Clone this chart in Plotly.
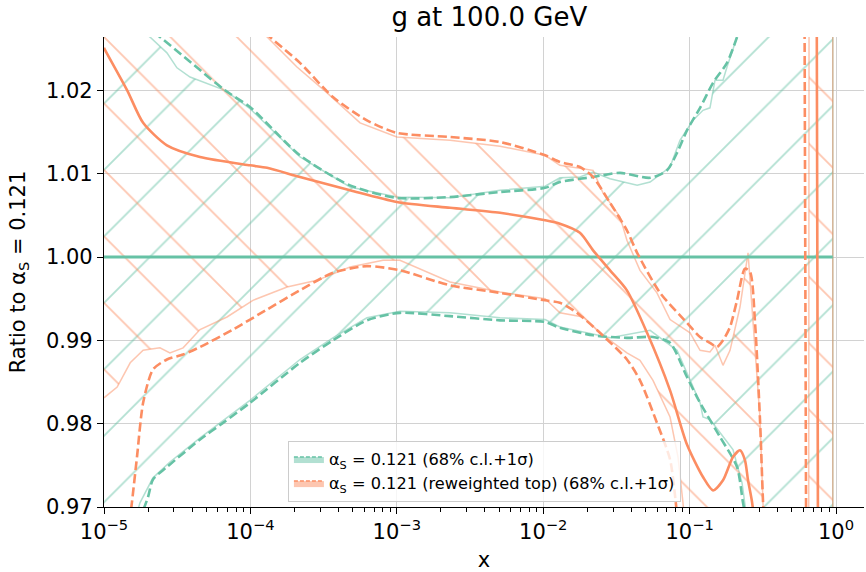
import plotly.graph_objects as go

# ---------------- data ----------------
green_central_x = [1e-5, 0.95]
green_central_y = [1.0, 1.0]

green_dash_hi_x = [1e-5, 1.51e-5, 2.41e-5, 6.71e-5, 9.93e-5, 2.18e-4, 4.79e-4, 1.00e-3, 2.31e-3, 5.07e-3,
                   1.03e-2, 1.30e-2, 2.19e-2, 3.35e-2, 5.37e-2, 7.01e-2, 8.20e-2, 9.59e-2, 0.1178, 0.1445,
                   0.180, 0.2108, 0.2388, 0.3027, 0.95]
green_dash_hi_y = [1.0319, 1.0290, 1.0264, 1.0200, 1.0180, 1.0122, 1.0086, 1.0071, 1.0072, 1.0078,
                   1.0083, 1.0090, 1.0096, 1.0101, 1.0095, 1.0104, 1.0125, 1.0152, 1.0179, 1.0209,
                   1.0233, 1.0264, 1.0296, 1.040, 1.100]

green_dash_lo_x = [1e-5, 1.51e-5, 1.76e-5, 2.00e-5, 2.16e-5, 2.69e-5, 4.53e-5, 6.5e-5, 9.93e-5, 2.18e-4,
                   3.66e-4, 6.25e-4, 1.05e-3, 2.31e-3, 5.07e-3, 1.03e-2, 1.30e-2, 2.19e-2, 3.73e-2, 5.62e-2,
                   7.35e-2, 9.59e-2, 0.1178, 0.1614, 0.2108, 0.2316, 0.2506, 0.3027, 0.95]
green_dash_lo_y = [0.950, 0.9637, 0.9685, 0.9712, 0.9733, 0.9748, 0.9781, 0.9801, 0.9825, 0.9873,
                   0.9900, 0.9924, 0.9933, 0.9929, 0.9924, 0.9922, 0.9915, 0.9906, 0.9903, 0.9904,
                   0.9897, 0.9856, 0.9825, 0.9784, 0.9748, 0.9705, 0.9673, 0.955, 0.90]

green_band_hi_x = [1e-5, 2.06e-5, 2.69e-5, 3.15e-5, 3.87e-5, 6.71e-5, 9.93e-5, 2.18e-4, 4.79e-4, 1.00e-3,
                   2.31e-3, 5.07e-3, 1.03e-2, 1.30e-2, 1.78e-2, 2.19e-2, 2.86e-2, 3.73e-2, 4.38e-2, 5.37e-2,
                   5.98e-2, 7.35e-2, 8.59e-2, 0.1054, 0.1234, 0.1377, 0.149, 0.169, 0.180, 0.1977,
                   0.2108, 0.2388, 0.3027, 0.95]
green_band_hi_y = [1.0300, 1.0264, 1.0245, 1.0227, 1.0216, 1.0200, 1.0178, 1.0120, 1.0084, 1.0072,
                   1.0071, 1.0080, 1.0085, 1.0095, 1.0096, 1.0102, 1.0094, 1.0089, 1.0086, 1.0090,
                   1.0096, 1.0108, 1.0140, 1.0164, 1.0176, 1.0179, 1.0212, 1.0212, 1.0228, 1.0248,
                   1.0264, 1.0300, 1.045, 1.100]

green_band_lo_x = [1e-5, 1.76e-5, 1.91e-5, 2.16e-5, 2.82e-5, 4.53e-5, 9.93e-5, 2.18e-4, 3.66e-4, 6.25e-4,
                   1.05e-3, 2.31e-3, 5.07e-3, 1.03e-2, 1.30e-2, 2.86e-2, 5.37e-2, 8.20e-2, 0.1178, 0.1234,
                   0.1377, 0.1977, 0.228, 0.2388, 0.2588, 0.3027, 0.95]
green_band_lo_y = [0.955, 0.9705, 0.9717, 0.9735, 0.9754, 0.9783, 0.9828, 0.9877, 0.9903, 0.9927,
                   0.9935, 0.9933, 0.9927, 0.9925, 0.9916, 0.9903, 0.9912, 0.9888, 0.9825, 0.9808,
                   0.9805, 0.9769, 0.9729, 0.9703, 0.966, 0.955, 0.90]

orange_central_x = [1e-5, 1.02e-5, 1.44e-5, 1.85e-5, 2.69e-5, 4.53e-5, 9.93e-5, 1.30e-4, 2.18e-4, 4.79e-4,
                    1.00e-3, 2.31e-3, 5.07e-3, 1.03e-2, 1.30e-2, 1.78e-2, 2.19e-2, 2.86e-2, 3.73e-2, 5.12e-2,
                    7.35e-2, 9.59e-2, 0.1234, 0.1445, 0.169, 0.1977, 0.2208, 0.2388, 0.2506, 0.2668,
                    0.284, 0.414, 0.722, 0.730, 0.95]
orange_central_y = [1.0251, 1.0248, 1.0200, 1.0161, 1.0134, 1.0120, 1.0110, 1.0107, 1.0096, 1.0080,
                    1.0066, 1.0059, 1.0053, 1.0044, 1.0040, 1.0029, 1.0008, 0.9984, 0.9960, 0.9909,
                    0.9840, 0.9775, 0.9736, 0.9720, 0.9732, 0.9760, 0.9768, 0.9756, 0.9732, 0.9706,
                    0.966, 0.90, 0.80, 1.25, 1.20]

orange_dash_hi_x = [1e-5, 4.53e-5, 1.36e-4, 2.18e-4, 3.66e-4, 6.25e-4, 1.00e-3, 2.31e-3, 5.07e-3, 1.03e-2,
                    1.30e-2, 1.78e-2, 2.19e-2, 2.86e-2, 3.73e-2, 4.38e-2, 6.28e-2, 9.59e-2, 0.1178, 0.1377,
                    0.1538, 0.169, 0.1888, 0.2108, 0.2388, 0.2588, 0.280, 0.3027, 0.317, 0.3325,
                    0.449, 0.614, 0.634, 0.95]
orange_dash_hi_y = [1.045, 1.034, 1.0264, 1.0233, 1.0192, 1.0164, 1.0149, 1.0144, 1.0138, 1.0122,
                    1.0114, 1.0108, 1.0096, 1.0065, 1.0032, 1.0005, 0.9957, 0.9921, 0.9904, 0.9897,
                    0.9892, 0.9900, 0.9916, 0.9948, 0.9986, 0.9982, 0.9920, 0.9803, 0.9707, 0.963,
                    0.90, 0.85, 1.20, 1.25]

orange_dash_lo_x = [1e-5, 1.39e-5, 1.55e-5, 1.68e-5, 1.85e-5, 2.16e-5, 2.69e-5, 3.47e-5, 4.53e-5, 7.60e-5,
                    1.30e-4, 2.18e-4, 3.66e-4, 6.25e-4, 1.05e-3, 2.31e-3, 5.07e-3, 1.03e-2, 1.30e-2, 1.70e-2,
                    2.44e-2, 3.73e-2, 4.58e-2, 5.98e-2, 7.35e-2, 8.07e-2, 8.59e-2, 0.1178, 0.5, 0.95]
orange_dash_lo_y = [0.945, 0.9637, 0.9705, 0.9760, 0.9825, 0.9865, 0.9877, 0.9883, 0.9892, 0.9913,
                    0.9937, 0.9960, 0.9981, 0.9989, 0.9984, 0.9966, 0.9957, 0.9948, 0.9945, 0.9933,
                    0.9909, 0.9877, 0.9852, 0.9801, 0.9757, 0.9703, 0.965, 0.94, 0.90, 0.85]

orange_band_hi_x = [1e-5, 1.30e-4, 2.08e-4, 3.34e-4, 5.61e-4, 1.00e-3, 2.31e-3, 5.07e-3, 1.03e-2, 1.30e-2,
                    2.19e-2, 2.56e-2, 3.35e-2, 3.73e-2, 4.58e-2, 5.98e-2, 7.35e-2, 0.1007, 0.1178, 0.1377,
                    0.149, 0.169, 0.1888, 0.2208, 0.2506, 0.2711, 0.3027, 0.317, 0.3325, 0.449,
                    0.644, 0.664, 0.95]
orange_band_hi_y = [1.045, 1.0264, 1.0228, 1.0197, 1.0161, 1.0144, 1.0140, 1.0133, 1.0122, 1.0110,
                    1.0104, 1.0077, 1.0048, 1.0020, 0.9984, 0.9957, 0.9925, 0.9909, 0.9888, 0.9886,
                    0.9894, 0.9870, 0.9888, 0.9940, 1.0005, 0.9921, 0.9806, 0.9705, 0.962, 0.90,
                    0.85, 1.20, 1.25]

orange_band_lo_x = [1e-5, 1.23e-5, 1.51e-5, 1.85e-5, 2.41e-5, 2.82e-5, 3.47e-5, 4.53e-5, 6.92e-5, 1.04e-4,
                    1.78e-4, 2.85e-4, 4.79e-4, 8.05e-4, 1.05e-3, 2.31e-3, 5.07e-3, 1.03e-2, 1.30e-2, 1.87e-2,
                    2.44e-2, 3.73e-2, 4.58e-2, 5.62e-2, 7.35e-2, 8.33e-2, 9.01e-2, 0.0959, 0.1178, 0.5,
                    0.95]
orange_band_lo_y = [0.9831, 0.9844, 0.9873, 0.9888, 0.9891, 0.9885, 0.9891, 0.9913, 0.9928, 0.9948,
                    0.9964, 0.9972, 0.9988, 0.9996, 0.9996, 0.9970, 0.9958, 0.9950, 0.9933, 0.9928,
                    0.9909, 0.9885, 0.9876, 0.9852, 0.9808, 0.9760, 0.9705, 0.965, 0.95, 0.90,
                    0.85]

x_tick_vals = [1e-5, 1e-4, 1e-3, 1e-2, 1e-1, 1e0]
x_tick_text = ["10<sup>−5</sup>", "10<sup>−4</sup>", "10<sup>−3</sup>", "10<sup>−2</sup>",
               "10<sup>−1</sup>", "10<sup>0</sup>"]
x_minor_vals = [m * 10.0 ** e for e in range(-5, 0) for m in range(2, 10)]
y_tick_vals = [0.97, 0.98, 0.99, 1.00, 1.01, 1.02]
y_tick_text = ["0.97", "0.98", "0.99", "1.00", "1.01", "1.02"]

legend_labels = ["α<sub>S</sub> = 0.121 (68% c.l.+1σ)",
                 "α<sub>S</sub> = 0.121 (reweighted top) (68% c.l.+1σ)"]

# ---------------- styling ----------------
GREEN = "#66c2a5"
ORANGE = "#fc8d62"
GREEN_A = "rgba(102,194,165,0.5)"
ORANGE_A = "rgba(252,141,98,0.5)"
FONT = "DejaVu Sans"
DASH = "9px,4px"

fig = go.Figure()


def polygon(xh, yh, xl, yl):
    return list(xh) + list(xl)[::-1], list(yh) + list(yl)[::-1]


def add_band(xh, yh, xl, yl, color, color_a, shape):
    px_, py_ = polygon(xh, yh, xl, yl)
    fig.add_trace(go.Scatter(
        x=px_, y=py_, mode="lines", fill="toself",
        fillcolor="rgba(0,0,0,0)",
        fillpattern=dict(shape=shape, size=47, solidity=0.04, fgcolor=color,
                         fgopacity=0.5, bgcolor="rgba(0,0,0,0)"),
        line=dict(color=color_a, width=1.5),
        hoverinfo="skip", showlegend=False))


def add_line(x, y, color, dash=None, width=2.6):
    fig.add_trace(go.Scatter(
        x=x, y=y, mode="lines",
        line=dict(color=color, width=width, dash=dash, shape="spline", smoothing=0.7),
        hoverinfo="skip", showlegend=False))


add_band(green_band_hi_x, green_band_hi_y, green_band_lo_x, green_band_lo_y, GREEN, GREEN_A, "/")
add_band(orange_band_hi_x, orange_band_hi_y, orange_band_lo_x, orange_band_lo_y, ORANGE, ORANGE_A, "\\")

add_line(green_dash_hi_x, green_dash_hi_y, GREEN, DASH)
add_line(green_dash_lo_x, green_dash_lo_y, GREEN, DASH)
add_line(green_central_x, green_central_y, GREEN, None, 2.8)
add_line(orange_dash_hi_x, orange_dash_hi_y, ORANGE, DASH)
add_line(orange_dash_lo_x, orange_dash_lo_y, ORANGE, DASH)
add_line(orange_central_x, orange_central_y, ORANGE, None, 2.6)

# legend entries
for label, col, col_a in [(legend_labels[0], GREEN, GREEN_A), (legend_labels[1], ORANGE, ORANGE_A)]:
    fig.add_trace(go.Scatter(
        x=[None], y=[None], mode="lines", fill="toself", fillcolor=col_a,
        line=dict(color=col, width=1.5, dash="4px,2px"), name=label, showlegend=True))

axis_common = dict(
    showline=True, linecolor="black", linewidth=1.2, mirror=False,
    ticks="outside", ticklen=6, tickwidth=1.2, tickcolor="black",
    showgrid=True, gridcolor="#d2d2d2", gridwidth=1, zeroline=False,
    tickfont=dict(family=FONT, size=21, color="black"),
    automargin=False,
)

fig.update_layout(
    width=866, height=572,
    margin=dict(l=104, r=2, t=37, b=65),
    paper_bgcolor="white", plot_bgcolor="white",
    font=dict(family=FONT, size=21, color="black"),
    title=dict(text="g at 100.0 GeV", x=0.507, xref="paper", xanchor="center",
               y=1 - 17 / 572, yref="container", yanchor="middle",
               font=dict(family=FONT, size=26, color="black")),
    xaxis=dict(type="log", range=[-5, 0.191], tickvals=x_tick_vals, ticktext=x_tick_text,
               minor=dict(tickvals=x_minor_vals, ticks="outside", ticklen=3.5, tickwidth=1,
                          tickcolor="black", showgrid=False),
               title=dict(text="x", standoff=12, font=dict(family=FONT, size=21)),
               **axis_common),
    yaxis=dict(range=[0.97, 1.0264], tickvals=y_tick_vals, ticktext=y_tick_text,
               title=dict(text="Ratio to α<sub>S</sub> = 0.121", standoff=14,
                          font=dict(family=FONT, size=21)),
               **axis_common),
    legend=dict(x=0.242, y=0.1404, xanchor="left", yanchor="top",
                bgcolor="rgba(255,255,255,0.8)", bordercolor="#cccccc", borderwidth=1,
                font=dict(family=FONT, size=16.2, color="black"), itemwidth=30,
                tracegroupgap=0),
    showlegend=True,
)

fig.write_html("out.html",
               config={"displayModeBar": False},
               post_script="document.body.style.margin='0px';document.body.style.padding='0px';")
